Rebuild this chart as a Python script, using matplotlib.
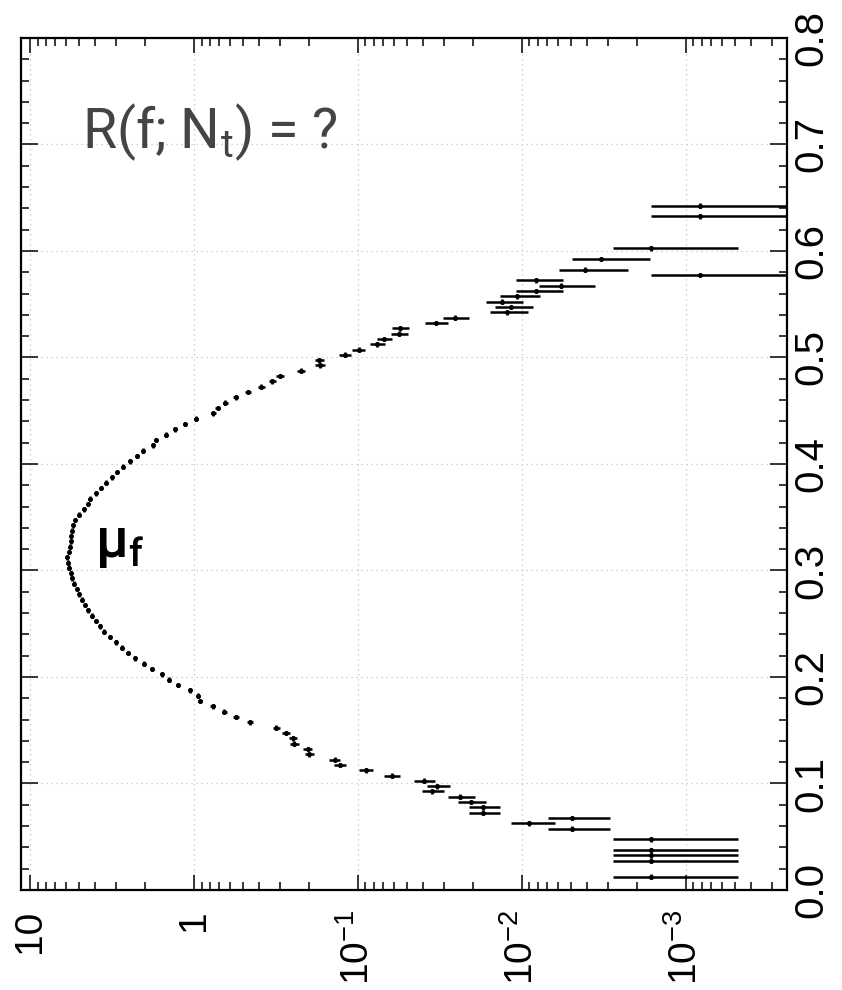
import matplotlib
matplotlib.use("Agg")
import matplotlib.pyplot as plt
from matplotlib.ticker import FixedLocator, FixedFormatter, LogLocator, MultipleLocator, NullFormatter

# bin centres in f
f_bins = [0.0125, 0.0275, 0.0325, 0.0375, 0.0475,
          0.0575, 0.0625, 0.0675, 0.0725, 0.0775, 0.0825, 0.0875, 0.0925, 0.0975, 0.1025,
          0.1075, 0.1125, 0.1175, 0.1225, 0.1275, 0.1325, 0.1375, 0.1425, 0.1475, 0.1525,
          0.1575, 0.1625, 0.1675, 0.1725, 0.1775, 0.1825, 0.1875, 0.1925, 0.1975, 0.2025,
          0.2075, 0.2125, 0.2175, 0.2225, 0.2275, 0.2325, 0.2375, 0.2425, 0.2475, 0.2525,
          0.2575, 0.2625, 0.2675, 0.2725, 0.2775, 0.2825, 0.2875, 0.2925, 0.2975, 0.3025,
          0.3075, 0.3125, 0.3175, 0.3225, 0.3275, 0.3325, 0.3375, 0.3425, 0.3475, 0.3525,
          0.3575, 0.3625, 0.3675, 0.3725, 0.3775, 0.3825, 0.3875, 0.3925, 0.3975, 0.4025,
          0.4075, 0.4125, 0.4175, 0.4225, 0.4275, 0.4325, 0.4375, 0.4425, 0.4475, 0.4525,
          0.4575, 0.4625, 0.4675, 0.4725, 0.4775, 0.4825, 0.4875, 0.4925, 0.4975, 0.5025,
          0.5075, 0.5125, 0.5175, 0.5225, 0.5275, 0.5325, 0.5375, 0.5425, 0.5475, 0.5525,
          0.5575, 0.5625, 0.5675, 0.5725, 0.5775, 0.5825,
          0.5925, 0.6025, 0.6325, 0.6425]

# R(f; Nt) per bin
r_vals = [0.00164, 0.00164, 0.00164, 0.00164, 0.00164,
          0.00493, 0.00902, 0.00493, 0.0174, 0.0174, 0.0206, 0.0239, 0.0352, 0.0328, 0.0396,
          0.0624, 0.0897, 0.129, 0.139, 0.198, 0.203, 0.244, 0.250, 0.276, 0.316,
          0.456, 0.555, 0.653, 0.769, 0.918, 0.942, 1.057, 1.247, 1.416, 1.574,
          1.811, 2.009, 2.291, 2.518, 2.761, 2.992, 3.251, 3.540, 3.741, 3.981,
          4.207, 4.406, 4.624, 4.842, 5.000, 5.188, 5.395, 5.546, 5.649, 5.754,
          5.861, 5.916, 5.781, 5.675, 5.649, 5.598, 5.546, 5.445, 5.321, 5.000,
          4.688, 4.406, 4.305, 3.981, 3.690, 3.443, 3.177, 2.958, 2.698, 2.455,
          2.218, 2.046, 1.770, 1.714, 1.483, 1.300, 1.130, 0.968, 0.762, 0.718,
          0.644, 0.557, 0.471, 0.388, 0.333, 0.299, 0.223, 0.170, 0.172, 0.120,
          0.0991, 0.0762, 0.0692, 0.0565, 0.0555, 0.0336, 0.0256, 0.0124, 0.0116, 0.0132,
          0.0107, 0.00822, 0.00575, 0.00822, 0.000822, 0.00411,
          0.00330, 0.00164, 0.000822, 0.000822]

r_errs = [0.00116, 0.00116, 0.00116, 0.00116, 0.00116,
          0.00201, 0.00272, 0.00201, 0.00378, 0.00378, 0.00411, 0.00443, 0.00538, 0.00519, 0.00571,
          0.00716, 0.00859, 0.0103, 0.0107, 0.0128, 0.0129, 0.0142, 0.0143, 0.0151, 0.0161,
          0.0194, 0.0214, 0.0232, 0.0251, 0.0275, 0.0278, 0.0295, 0.0320, 0.0341, 0.0360,
          0.0386, 0.0406, 0.0434, 0.0455, 0.0476, 0.0496, 0.0517, 0.0539, 0.0555, 0.0572,
          0.0588, 0.0602, 0.0617, 0.0631, 0.0641, 0.0653, 0.0666, 0.0675, 0.0681, 0.0688,
          0.0694, 0.0697, 0.0689, 0.0683, 0.0681, 0.0678, 0.0675, 0.0669, 0.0661, 0.0641,
          0.0621, 0.0602, 0.0595, 0.0572, 0.0551, 0.0532, 0.0511, 0.0493, 0.0471, 0.0449,
          0.0427, 0.0410, 0.0381, 0.0375, 0.0349, 0.0327, 0.0305, 0.0282, 0.0250, 0.0243,
          0.0230, 0.0214, 0.0197, 0.0179, 0.0165, 0.0157, 0.0135, 0.0118, 0.0119, 0.0099,
          0.0090, 0.0079, 0.0075, 0.0068, 0.0068, 0.00525, 0.00459, 0.00319, 0.00308, 0.00329,
          0.00297, 0.00260, 0.00217, 0.00260, 0.000822, 0.00184,
          0.00165, 0.00116, 0.000822, 0.000822]

bin_half = 0.0022

log_ticks = [10, 1, 0.1, 0.01, 0.001]
log_labels = ['10', '1', r'$\mathregular{10^{-1}}$', r'$\mathregular{10^{-2}}$', r'$\mathregular{10^{-3}}$']
f_ticks = [0.0, 0.1, 0.2, 0.3, 0.4, 0.5, 0.6, 0.7, 0.8]
f_labels = ['0.0', '0.1', '0.2', '0.3', '0.4', '0.5', '0.6', '0.7', '0.8']

plt.rcParams['font.family'] = ['Liberation Sans', 'DejaVu Sans']
plt.rcParams['mathtext.fontset'] = 'custom'
plt.rcParams['mathtext.rm'] = 'Liberation Sans'

fig = plt.figure(figsize=(8.42, 9.9), dpi=100)
ax = fig.add_axes([0.02494, 0.10101, 0.90974, 0.86061])

ax.errorbar(r_vals, f_bins, xerr=r_errs, yerr=bin_half, fmt='o', ms=2.6,
            color='black', ecolor='black', elinewidth=1.8, capsize=0, zorder=3)

ax.set_xscale('log')
ax.set_xlim(11.35, 2.42e-4)
ax.set_ylim(0, 0.8)

ax.xaxis.set_major_locator(FixedLocator(log_ticks))
ax.xaxis.set_major_formatter(FixedFormatter(log_labels))
ax.xaxis.set_minor_locator(LogLocator(base=10, subs=range(2, 10), numticks=20))
ax.xaxis.set_minor_formatter(NullFormatter())

ax.yaxis.set_major_locator(FixedLocator(f_ticks))
ax.yaxis.set_major_formatter(FixedFormatter(f_labels))
ax.yaxis.set_minor_locator(MultipleLocator(0.02))
ax.yaxis.tick_right()

ax.tick_params(which='both', direction='in', top=True, bottom=True, left=True, right=True,
               labelleft=False, labelright=True, width=1.1, color='black')
ax.tick_params(axis='x', which='major', length=11, pad=14, labelsize=28, labelrotation=90)
ax.tick_params(axis='x', which='minor', length=5.5)
ax.tick_params(axis='y', which='major', length=12, pad=4, labelsize=29)
ax.tick_params(axis='y', which='minor', length=6)
for lab in ax.get_yticklabels():
    lab.set_rotation(90)
    lab.set_va('center')

for sp in ax.spines.values():
    sp.set_linewidth(1.6)

ax.grid(True, which='major', linestyle=(0, (1, 3)), color='#c4c4c4', linewidth=0.9)

ax.text(0.0796, 0.871, r'R(f; N$_\mathregular{t}$) = ?', transform=ax.transAxes,
        fontsize=40, family='Roboto', color='#444444', va='baseline', ha='left')
ax.text(0.0966, 0.391, r'μ$_\mathregular{f}$', transform=ax.transAxes,
        fontsize=40, family='Roboto', fontweight='medium', color='black', va='baseline', ha='left')

fig.savefig('out.png', dpi=100)
